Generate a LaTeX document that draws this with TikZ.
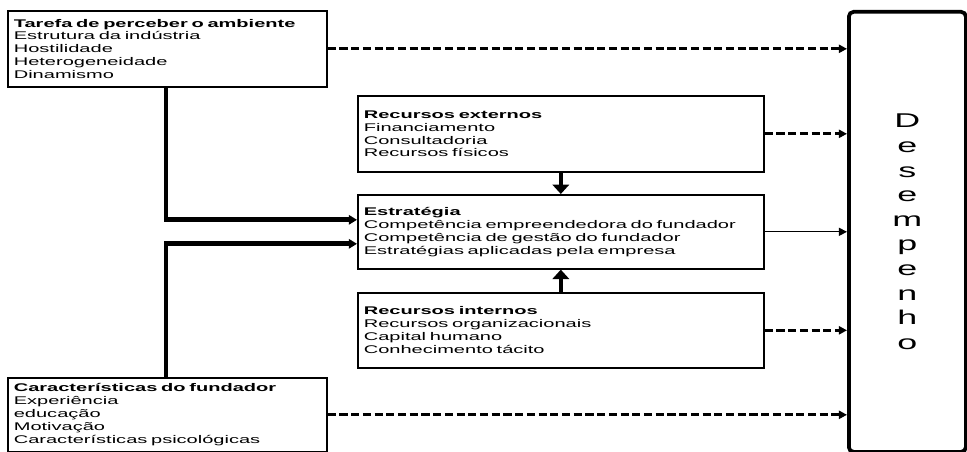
\documentclass[tikz,border=0pt]{standalone}
\usepackage{fontspec}
\setmainfont[FakeStretch=1.8]{Liberation Sans}
\usetikzlibrary{arrows.meta,calc}
\tikzset{
  every picture/.style={line width=1.2pt, x=0.03cm, y=-0.03cm},
  box/.style={draw, line width=1.4pt, anchor=north west, align=left, inner xsep=0.18cm, inner ysep=0pt,
    font=\fontsize{9.5}{11}\selectfont},
  wide/.style={box, text width=11.82cm},
  narrow/.style={box, text width=9.21cm},
  result/.style={draw, line width=3.2pt, rounded corners=4pt, anchor=north west, align=center,
    minimum width=3.51cm, minimum height=13.2cm, font=\fontsize{17}{21}\selectfont},
  feed/.style={-{Triangle[length=7pt,width=8pt]}, line width=4pt},
  push/.style={-{Triangle[length=8pt,width=14pt]}, line width=3.4pt},
  link/.style={-{Triangle[length=7pt,width=7pt]}, line width=2.4pt, dash pattern=on 7pt off 3pt},
  thin link/.style={-{Triangle[length=7pt,width=7pt]}, line width=1pt},
}
\begin{document}
\begin{tikzpicture}
  \useasboundingbox (0,0) rectangle (967,452);
  % boxes
  \node[narrow, minimum height=2.28cm] (amb) at (7,10) {\textbf{Tarefa de perceber o ambiente}\\Estrutura da indústria\\Hostilidade\\Heterogeneidade\\Dinamismo};
  \node[wide, minimum height=2.28cm] (ext) at (357,95) {\textbf{Recursos externos}\\Financiamento\\Consultadoria\\Recursos físicos};
  \node[wide, minimum height=2.22cm] (est) at (357,194) {\textbf{Estratégia}\\Competência empreendedora do fundador\\Competência de gestão do fundador\\Estratégias aplicadas pela empresa};
  \node[wide, minimum height=2.25cm] (int) at (357,292) {\textbf{Recursos internos}\\Recursos organizacionais\\Capital humano\\Conhecimento tácito};
  \node[narrow, minimum height=2.22cm] (fund) at (7,377) {\textbf{Características do fundador}\\Experiência\\educação\\Motivação\\Características psicológicas};
  \node[result] (des) at (847,10) {D\\e\\s\\e\\m\\p\\e\\n\\h\\o};
  % connectors
  \coordinate (trunk) at (166,0);
  \draw[feed] (amb.south -| trunk) |- ($(est.west)+(0,-12)$);
  \draw[feed] (fund.north -| trunk) |- ($(est.west)+(0,12)$);
  \draw[push] (ext.south) -- (est.north);
  \draw[push] (int.north) -- (est.south);
  \draw[link] (amb.east) -- (amb.east -| des.west);
  \draw[link] (ext.east) -- (ext.east -| des.west);
  \draw[thin link] (est.east) -- (est.east -| des.west);
  \draw[link] (int.east) -- (int.east -| des.west);
  \draw[link] (fund.east) -- (fund.east -| des.west);
\end{tikzpicture}
\end{document}
